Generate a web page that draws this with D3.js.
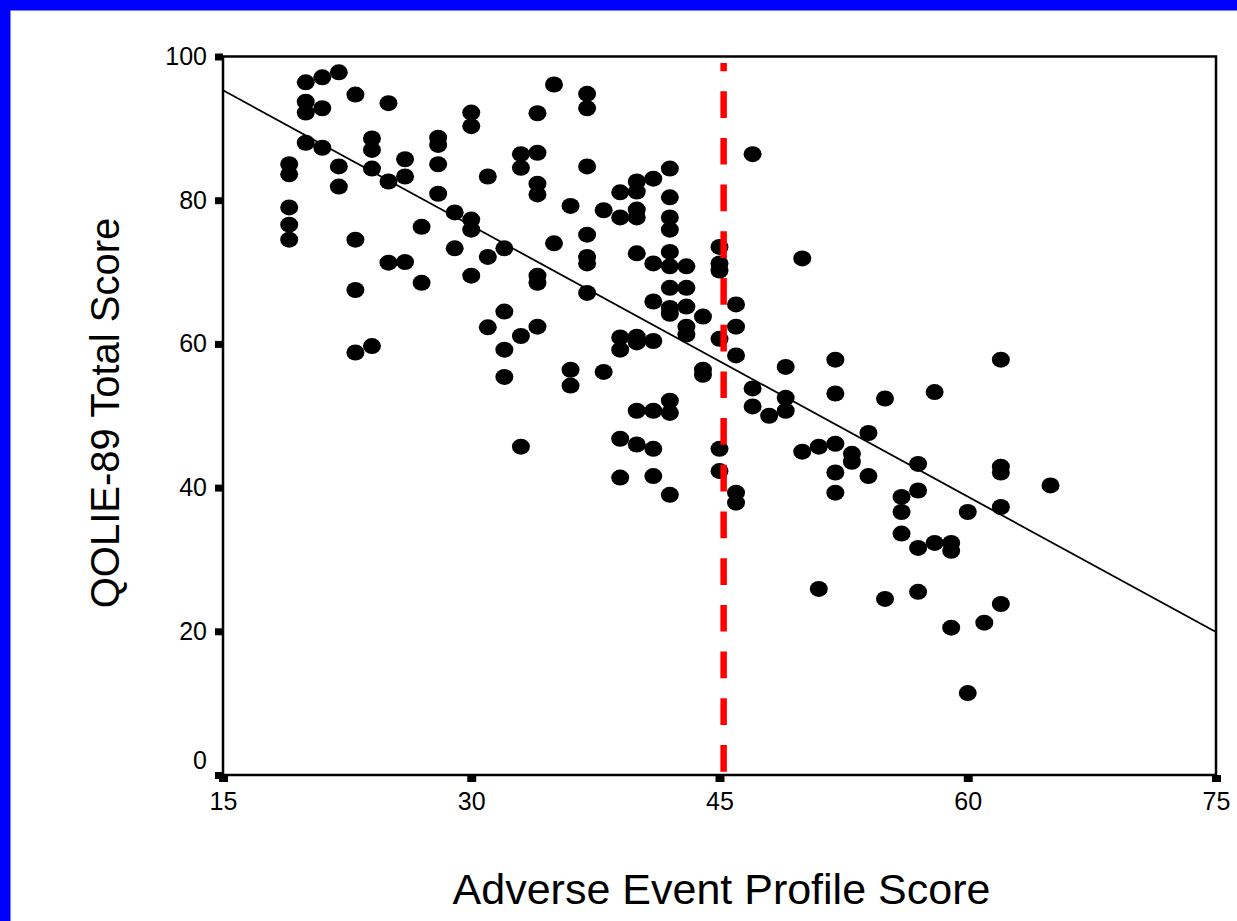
<!DOCTYPE html>
<html>
<head>
<meta charset="utf-8">
<script src="https://cdn.jsdelivr.net/npm/d3@7"></script>
<style>
  body { margin: 0; background: #fff; }
  svg { display: block; font-family: "Liberation Sans", Arial, sans-serif; }
</style>
</head>
<body>
<div id="scatter"></div>
<script>
// Adverse Event Profile score (x) and QOLIE-89 total score (y), one entry per patient
var aepScore = [
  19, 19, 19, 19, 19,
  20, 20, 20, 20,
  21, 21, 21,
  22, 22, 22,
  23, 23, 23, 23,
  24, 24, 24, 24,
  25, 25, 25,
  26, 26, 26,
  27, 27,
  28, 28, 28, 28,
  29, 29,
  30, 30, 30, 30, 30,
  31, 31, 31,
  32, 32, 32, 32,
  33, 33, 33, 33,
  34, 34, 34, 34, 34, 34, 34,
  35, 35,
  36, 36, 36,
  37, 37, 37, 37, 37, 37, 37,
  38, 38,
  39, 39, 39, 39, 39, 39,
  40, 40, 40, 40, 40, 40, 40, 40, 40,
  41, 41, 41, 41, 41, 41, 41,
  42, 42, 42, 42, 42, 42, 42, 42, 42, 42, 42, 42,
  43, 43, 43, 43, 43,
  44, 44, 44,
  45, 45, 45, 45, 45, 45,
  46, 46, 46, 46, 46,
  47, 47, 47,
  48,
  49, 49, 49,
  50, 50,
  51, 51,
  52, 52, 52, 52, 52,
  53, 53,
  54, 54,
  55, 55,
  56, 56, 56,
  57, 57, 57, 57,
  58, 58,
  59, 59, 59,
  60, 60,
  61,
  62, 62, 62, 62, 62,
  65
];

var qolieScore = [
  85.0, 83.6, 79.0, 76.6, 74.5,
  96.4, 93.7, 92.2, 88.0,
  97.1, 92.8, 87.3,
  97.8, 84.7, 81.9,
  94.7, 74.5, 67.5, 58.8,
  88.6, 87.0, 84.4, 59.7,
  93.5, 82.6, 71.3,
  85.7, 83.3, 71.4,
  76.3, 68.5,
  88.7, 87.7, 85.0, 80.9,
  78.3, 73.3,
  92.2, 90.3, 77.3, 75.9, 69.5,
  83.3, 72.1, 62.3,
  73.3, 64.5, 59.2, 55.4,
  86.4, 84.5, 61.1, 45.7,
  92.1, 86.6, 82.3, 80.8, 69.5, 68.5, 62.4,
  96.1, 74.0,
  79.2, 56.4, 54.2,
  94.8, 92.8, 84.7, 75.2, 72.1, 71.2, 67.1,
  78.6, 56.1,
  81.1, 77.6, 60.9, 59.2, 46.8, 41.4,
  82.6, 81.2, 78.7, 77.6, 72.6, 61.0, 60.2, 50.7, 46.0,
  83.0, 71.2, 65.9, 60.4, 50.7, 45.4, 41.6,
  84.4, 80.4, 77.6, 75.9, 72.8, 70.8, 67.8, 65.0, 64.2, 52.1, 50.4, 39.0,
  70.8, 67.8, 65.2, 62.4, 61.3,
  63.8, 56.4, 55.7,
  73.5, 71.2, 70.2, 60.7, 45.4, 42.3,
  65.5, 62.4, 58.4, 39.3, 37.9,
  86.4, 53.8, 51.3,
  50.0,
  56.8, 52.5, 50.7,
  71.9, 45.0,
  45.7, 25.9,
  57.8, 53.1, 46.1, 42.1, 39.3,
  44.7, 43.6,
  47.6, 41.6,
  52.4, 24.5,
  38.7, 36.6, 33.6,
  43.3, 39.6, 31.6, 25.5,
  53.3, 32.3,
  32.3, 31.2, 20.5,
  36.6, 11.4,
  21.2,
  57.8, 42.9, 42.1, 37.3, 23.8,
  40.3
];

var xTicks = [15, 30, 45, 60, 75];
var yTicks = [0, 20, 40, 60, 80, 100];

// fitted regression line, read at both ends of the x range
var fitX = [15, 75];
var fitY = [95.3, 19.9];

// cut-off marker (red dashed)
var cutoffX = 45.25;
var cutoffY = [0.46, 99.1];

var svgWidth = 1237;
var svgHeight = 921;

var margin = {
  top: 56.5,
  right: 21,
  bottom: 146,
  left: 223
};

var width = svgWidth - margin.left - margin.right;
var height = svgHeight - margin.top - margin.bottom;

var svg = d3.select("#scatter")
  .append("svg")
  .attr("width", svgWidth)
  .attr("height", svgHeight);

svg.append("rect")
  .attr("width", svgWidth)
  .attr("height", svgHeight)
  .attr("fill", "#fff");

// blue slide border on top and left
svg.append("rect")
  .attr("x", 0).attr("y", 0)
  .attr("width", svgWidth).attr("height", 10.5)
  .attr("fill", "#0000ff");
svg.append("rect")
  .attr("x", 0).attr("y", 0)
  .attr("width", 10.5).attr("height", svgHeight)
  .attr("fill", "#0000ff");

var chartGroup = svg.append("g")
  .attr("transform", `translate(${margin.left}, ${margin.top})`);

var xLinearScale = d3.scaleLinear()
  .domain([15, 75])
  .range([0, width]);

var yLinearScale = d3.scaleLinear()
  .domain([0, 100])
  .range([height, 0]);

var bottomAxis = d3.axisBottom(xLinearScale)
  .tickValues(xTicks)
  .tickSize(7)
  .tickPadding(10);

var leftAxis = d3.axisLeft(yLinearScale)
  .tickValues(yTicks)
  .tickSize(8)
  .tickPadding(8);

var xAxisG = chartGroup.append("g")
  .attr("transform", `translate(0, ${height})`)
  .call(bottomAxis);

var yAxisG = chartGroup.append("g")
  .call(leftAxis);

// square tick marks, no domain path (frame is drawn below)
xAxisG.select(".domain").remove();
yAxisG.select(".domain").remove();
xAxisG.selectAll(".tick line")
  .attr("stroke", "#000")
  .attr("stroke-width", 9);
yAxisG.selectAll(".tick line")
  .attr("stroke", "#000")
  .attr("stroke-width", 7);
chartGroup.selectAll(".tick text")
  .attr("fill", "#000")
  .style("font-size", "25px")
  .style("font-family", "'Liberation Sans', Arial, sans-serif");

// the "0" label sits a little above its tick, clear of the x labels
yAxisG.selectAll(".tick text")
  .filter(d => d === 0)
  .attr("dy", "-0.26em");

// plot frame
chartGroup.append("rect")
  .attr("x", 0)
  .attr("y", 0)
  .attr("width", width)
  .attr("height", height)
  .attr("fill", "none")
  .attr("stroke", "#000")
  .attr("stroke-width", 2.5);

// points
chartGroup.selectAll("ellipse")
  .data(d3.range(aepScore.length))
  .enter()
  .append("ellipse")
  .attr("cx", i => xLinearScale(aepScore[i]))
  .attr("cy", i => yLinearScale(qolieScore[i]))
  .attr("rx", 9)
  .attr("ry", 8)
  .attr("fill", "#000");

// regression line
chartGroup.append("line")
  .attr("x1", xLinearScale(fitX[0]))
  .attr("y1", yLinearScale(fitY[0]))
  .attr("x2", xLinearScale(fitX[1]))
  .attr("y2", yLinearScale(fitY[1]))
  .attr("stroke", "#000")
  .attr("stroke-width", 1.8);

// red dashed cut-off, drawn bottom-up so the dashes sit like the original
chartGroup.append("line")
  .attr("x1", xLinearScale(cutoffX))
  .attr("y1", yLinearScale(cutoffY[0]))
  .attr("x2", xLinearScale(cutoffX))
  .attr("y2", yLinearScale(cutoffY[1]))
  .attr("stroke", "#ff0000")
  .attr("stroke-width", 6.5)
  .attr("stroke-dasharray", "26.7,20");

// axis titles
svg.append("text")
  .attr("transform", "translate(119, 413) rotate(-90)")
  .attr("text-anchor", "middle")
  .style("font-size", "40px")
  .attr("fill", "#000")
  .text("QOLIE-89 Total Score");

svg.append("text")
  .attr("x", 721.5)
  .attr("y", 904)
  .attr("text-anchor", "middle")
  .style("font-size", "43px")
  .attr("fill", "#000")
  .text("Adverse Event Profile Score");
</script>
</body>
</html>
